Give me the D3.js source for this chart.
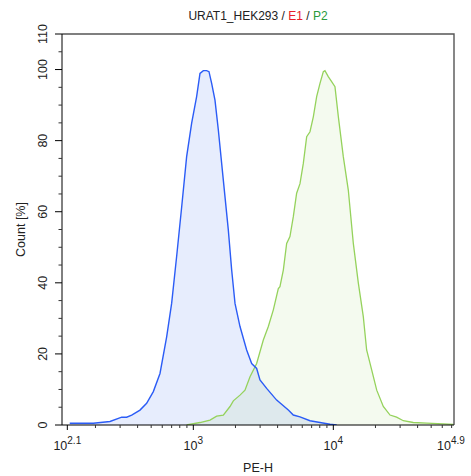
<!DOCTYPE html>
<html>
<head>
<meta charset="utf-8">
<script src="https://cdn.jsdelivr.net/npm/d3@7"></script>
<style>
  body { margin: 0; background: #fff; }
  svg { display: block; font-family: "Liberation Sans", Arial, sans-serif; }
</style>
</head>
<body>
<svg id="chart" width="471" height="476"></svg>
<script>
// E1 histogram (PE-H value, count %)
const e1PE = [131, 193, 254, 308, 334, 363, 416, 464, 518, 578, 645, 700, 760, 826, 896, 973, 1056, 1116, 1179, 1245, 1294, 1352, 1428, 1509, 1638, 1778, 1879, 1985, 2155, 2404, 2611, 2834, 2993, 3340, 3938, 4771, 5179, 5780, 6813, 8032, 9468, 10568];
const e1Count = [0.5, 0.5, 1.0, 2.2, 2.2, 2.8, 4.2, 6.1, 9.4, 14.5, 24.8, 34.2, 47.4, 61.4, 75.5, 84.9, 92.4, 98.9, 99.7, 99.7, 99.4, 96.1, 91.4, 83.0, 68.9, 54.9, 43.6, 34.2, 27.7, 21.1, 17.3, 15.9, 12.7, 10.3, 7.0, 4.2, 2.8, 2.3, 1.2, 0.7, 0.2, 0];

// P2 histogram
const p2PE = [896, 1116, 1316, 1468, 1638, 1828, 1931, 2155, 2339, 2541, 2834, 3162, 3434, 3728, 4047, 4157, 4394, 4642, 4900, 5179, 5470, 5780, 6105, 6452, 6813, 7197, 7603, 8032, 8486, 8714, 9204, 9727, 10275, 10864, 11785, 12794, 13895, 15092, 16374, 17298, 18793, 20417, 22751, 25410, 28314, 31623, 37240, 46416, 61054, 71946];
const p2Count = [0, 0.7, 1.4, 2.5, 2.8, 5.2, 6.8, 8.4, 9.8, 13.6, 17.3, 23.9, 27.7, 32.4, 38.4, 38.9, 43.6, 51.1, 53.0, 58.6, 65.2, 67.9, 73.6, 81.1, 82.5, 86.7, 92.4, 96.1, 99.4, 99.7, 98.0, 96.6, 95.2, 86.7, 75.5, 66.1, 51.1, 39.9, 30.5, 21.1, 15.5, 9.8, 5.2, 2.8, 2.2, 1.2, 0.7, 0.5, 0.3, 0.2];

// axis labels
const xTickExp = ["2.1", "3", "4", "4.9"];
const yMajor = [0, 20, 40, 60, 80, 100, 110];
const yMinor = d3.range(0, 111, 5);

const svg = d3.select("#chart");
const width = 471;

const x = d3.scaleLog()
  .domain([Math.pow(10, 2.062), Math.pow(10, 4.862)])
  .range([62, 454]);
const y = d3.scaleLinear()
  .domain([0, 110])
  .range([425, 34]);

svg.append("defs").append("clipPath").attr("id", "plotClip")
  .append("rect")
  .attr("x", x.range()[0]).attr("y", y.range()[1])
  .attr("width", x.range()[1] - x.range()[0])
  .attr("height", y.range()[0] - y.range()[1]);

const e1 = e1PE.map((v, i) => ({ v: v, c: e1Count[i] }));
const p2 = p2PE.map((v, i) => ({ v: v, c: p2Count[i] }));

const area = d3.area()
  .x(d => x(d.v))
  .y0(y(0))
  .y1(d => y(d.c));
const line = d3.line()
  .x(d => x(d.v))
  .y(d => y(d.c));

const plot = svg.append("g").attr("clip-path", "url(#plotClip)");

// fills
plot.append("path").datum(e1)
  .attr("d", area)
  .style("fill", "rgb(60,110,240)")
  .style("fill-opacity", 0.12);
plot.append("path").datum(p2)
  .attr("d", area)
  .style("fill", "rgb(130,200,80)")
  .style("fill-opacity", 0.09);

// outlines
plot.append("path").datum(p2)
  .attr("d", line)
  .style("fill", "none")
  .style("stroke", "#95d25c")
  .style("stroke-width", 1.3);
plot.append("path").datum(e1)
  .attr("d", line)
  .style("fill", "none")
  .style("stroke", "#2b5cf6")
  .style("stroke-width", 1.4);

// frame top/right
const [x0, x1] = x.range();
const [yb, yt] = y.range();
svg.append("path")
  .attr("d", `M${x0},${yt}H${x1}V${yb}`)
  .style("fill", "none")
  .style("stroke", "#555")
  .style("stroke-width", 1.4);

// x axis
const xMinor = [];
[100, 1000, 10000].forEach(dec => {
  for (let k = 2; k <= 9; k++) {
    const v = dec * k;
    if (v > x.domain()[0] && v < x.domain()[1]) xMinor.push(v);
  }
});
const xMajorVals = xTickExp.map(e => Math.pow(10, +e));

const xAxisG = svg.append("g");
xAxisG.append("line")
  .attr("x1", x0).attr("x2", x1).attr("y1", yb).attr("y2", yb)
  .style("stroke", "#000");
xAxisG.selectAll("line.minor")
  .data(xMinor).enter().append("line")
  .attr("class", "minor")
  .attr("x1", d => x(d)).attr("x2", d => x(d))
  .attr("y1", yb).attr("y2", yb + 3)
  .style("stroke", "#333");
xAxisG.selectAll("line.major")
  .data(xMajorVals.filter(v => x(v) > x0 + 1 && x(v) < x1 - 1)).enter().append("line")
  .attr("class", "major")
  .attr("x1", d => x(d)).attr("x2", d => x(d))
  .attr("y1", yb).attr("y2", yb + 5)
  .style("stroke", "#000");

const xLabels = xAxisG.selectAll("text.xl")
  .data(xTickExp).enter().append("text")
  .attr("class", "xl")
  .attr("x", d => Math.min(x(Math.pow(10, +d)), width - 20))
  .attr("y", 450)
  .attr("text-anchor", "middle")
  .style("font-size", "12.5px")
  .style("fill", "#222");
xLabels.append("tspan").text("10");
xLabels.append("tspan")
  .attr("dy", -6)
  .style("font-size", "10px")
  .text(d => d);

// y axis
const yAxisG = svg.append("g");
yAxisG.append("line")
  .attr("x1", x0).attr("x2", x0).attr("y1", yb).attr("y2", yt)
  .style("stroke", "#000");
yAxisG.selectAll("line.minor")
  .data(yMinor.filter(v => !yMajor.includes(v))).enter().append("line")
  .attr("class", "minor")
  .attr("x1", x0 - 3.5).attr("x2", x0)
  .attr("y1", d => y(d)).attr("y2", d => y(d))
  .style("stroke", "#333");
yAxisG.selectAll("line.major")
  .data(yMajor).enter().append("line")
  .attr("class", "major")
  .attr("x1", x0 - 7).attr("x2", x0)
  .attr("y1", d => y(d)).attr("y2", d => y(d))
  .style("stroke", "#000");
yAxisG.selectAll("text.yl")
  .data(yMajor).enter().append("text")
  .attr("class", "yl")
  .attr("transform", d => `translate(47,${y(d)}) rotate(-90)`)
  .attr("text-anchor", "middle")
  .style("font-size", "12.5px")
  .style("fill", "#222")
  .text(d => d);

// axis titles
svg.append("text")
  .attr("transform", `translate(25,${(yb + yt) / 2}) rotate(-90)`)
  .attr("text-anchor", "middle")
  .style("font-size", "12.5px")
  .style("fill", "#222")
  .text("Count [%]");
svg.append("text")
  .attr("x", (x0 + x1) / 2)
  .attr("y", 472)
  .attr("text-anchor", "middle")
  .style("font-size", "12.5px")
  .style("fill", "#222")
  .text("PE-H");

// title
const titleParts = [
  { t: "URAT1_HEK293 / ", c: "#222" },
  { t: "E1", c: "#e8202a" },
  { t: " / ", c: "#222" },
  { t: "P2", c: "#2a9a3a" }
];
const title = svg.append("text")
  .attr("x", (x0 + x1) / 2)
  .attr("y", 20)
  .attr("text-anchor", "middle")
  .style("font-size", "12px");
title.selectAll("tspan")
  .data(titleParts).enter().append("tspan")
  .style("fill", d => d.c)
  .text(d => d.t);
</script>
</body>
</html>
